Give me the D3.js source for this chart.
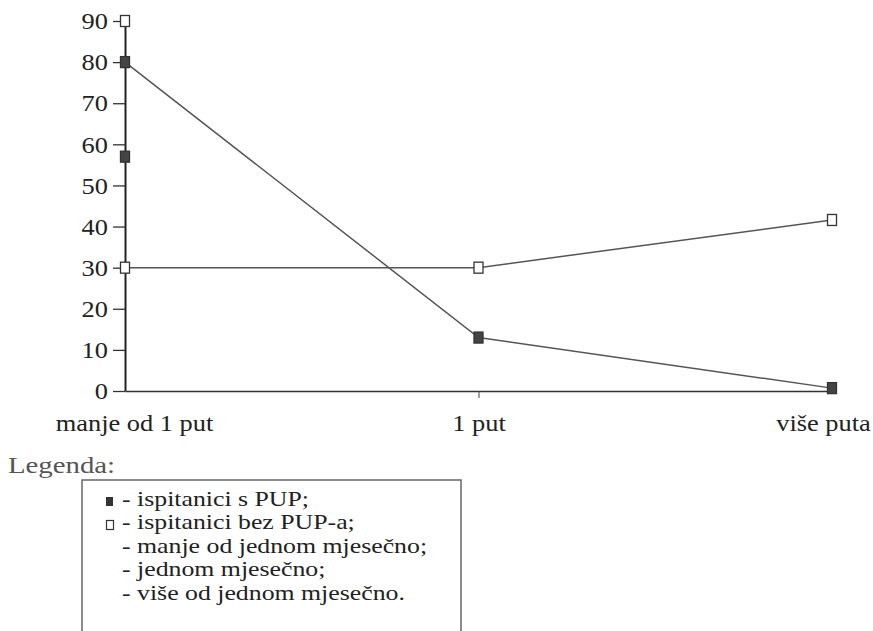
<!DOCTYPE html>
<html lang="hr">
<head>
    <meta charset="UTF-8">
    <title>Učestalost - ispitanici s PUP i bez PUP-a</title>
    <style>
        body { margin: 0; background: #fff; }
        svg { display: block; }
        svg text { font-family: 'Liberation Serif'; }
        .line { fill: none; stroke: #555; stroke-width: 1.5px; }
    </style>
</head>
<body>
    <svg id="chart" width="873" height="631" font-family="Liberation Serif"></svg>
    <script src="https://d3js.org/d3.v7.min.js"></script>
    <script>
        // categories on the x axis
        const categories = ["manje od 1 put", "1 put", "više puta"];
        // ispitanici s PUP (filled squares)
        const withPup = [80, 13, 0.7];
        // ispitanici bez PUP-a (open squares)
        const withoutPup = [30, 30, 41.6];
        // loose markers sitting on the y axis with no line
        const extraFilled = [{cat: "manje od 1 put", value: 57}];
        const extraOpen = [{cat: "manje od 1 put", value: 90}];
        const yTicks = [0, 10, 20, 30, 40, 50, 60, 70, 80, 90];
        const legendLines = [
            "- ispitanici s PUP;",
            "- ispitanici bez PUP-a;",
            "- manje od jednom mjesečno;",
            "- jednom mjesečno;",
            "- više od jednom mjesečno."
        ];

        const sx = 1.1;   // the scanned type is a bit wider than Times

        const svg = d3.select("#chart");

        const x = d3.scalePoint().domain(categories).range([125, 832]);
        const y = d3.scaleLinear().domain([0, 90]).range([391, 21]);

        // y axis
        const yAxis = svg.append("g")
            .attr("transform", `translate(${x(categories[0])},0)`)
            .call(d3.axisLeft(y).tickValues(yTicks).tickSize(12).tickSizeOuter(0))
            .attr("font-family", "Liberation Serif")
            .attr("font-size", 24);
        yAxis.select(".domain").attr("stroke", "#222").attr("stroke-width", 2);
        yAxis.selectAll(".tick line").attr("stroke", "#333").attr("stroke-width", 1.3);
        yAxis.selectAll(".tick text")
            .attr("fill", "#222")
            .attr("x", -17 / sx)
            .attr("transform", `scale(${sx},1)`);

        // x axis
        const xAxis = svg.append("g")
            .attr("transform", `translate(0,${y(0)})`)
            .call(d3.axisBottom(x).tickSize(7).tickSizeOuter(0).tickPadding(16))
            .attr("font-family", "Liberation Serif")
            .attr("font-size", 24);
        xAxis.select(".domain").attr("stroke", "#333").attr("stroke-width", 1.5);
        xAxis.selectAll(".tick line")
            .attr("stroke", "#444")
            .attr("stroke-opacity", (d, i) => i === 1 ? 1 : 0);
        xAxis.selectAll(".tick text")
            .attr("fill", "#222")
            .attr("dx", (d, i) => [9, 0, -9][i] / sx)
            .attr("transform", `scale(${sx},1)`);

        const line = d3.line()
            .x((d, i) => x(categories[i]))
            .y(d => y(d));

        svg.append("path").datum(withoutPup).attr("class", "line").attr("d", line);
        svg.append("path").datum(withPup).attr("class", "line").attr("d", line);

        function marker(sel, filled) {
            sel.append("rect")
                .attr("x", d => d.x - 4.5)
                .attr("y", d => d.y - 5.5)
                .attr("width", 9)
                .attr("height", 11)
                .attr("fill", filled ? "#444" : "#fff")
                .attr("stroke", "#333")
                .attr("stroke-width", 1.3);
        }

        const filledPts = withPup.map((v, i) => ({x: x(categories[i]), y: y(v)}))
            .concat(extraFilled.map(d => ({x: x(d.cat), y: y(d.value)})));
        const openPts = withoutPup.map((v, i) => ({x: x(categories[i]), y: y(v)}))
            .concat(extraOpen.map(d => ({x: x(d.cat), y: y(d.value)})));

        svg.append("g").selectAll("g").data(openPts).enter().append("g").call(marker, false);
        svg.append("g").selectAll("g").data(filledPts).enter().append("g").call(marker, true);

        // legend
        const lx = 1.2;
        svg.append("text")
            .attr("transform", `translate(8,473) scale(${lx},1)`)
            .attr("font-size", 24)
            .attr("fill", "#555")
            .text("Legenda:");

        svg.append("path")
            .attr("d", "M82,631V480H461V631")
            .attr("fill", "none")
            .attr("stroke", "#666")
            .attr("stroke-width", 1.5);

        svg.append("g").selectAll("text")
            .data(legendLines)
            .enter().append("text")
            .attr("transform", (d, i) => `translate(122,${506 + i * 23.4}) scale(${lx},1)`)
            .attr("font-size", 21.5)
            .attr("fill", "#222")
            .text(d => d);

        svg.append("rect").attr("x", 106).attr("y", 497).attr("width", 7).attr("height", 9)
            .attr("fill", "#333");
        svg.append("rect").attr("x", 106.5).attr("y", 520.5).attr("width", 7).attr("height", 9)
            .attr("fill", "#fff").attr("stroke", "#333").attr("stroke-width", 1.2);
    </script>
</body>
</html>
